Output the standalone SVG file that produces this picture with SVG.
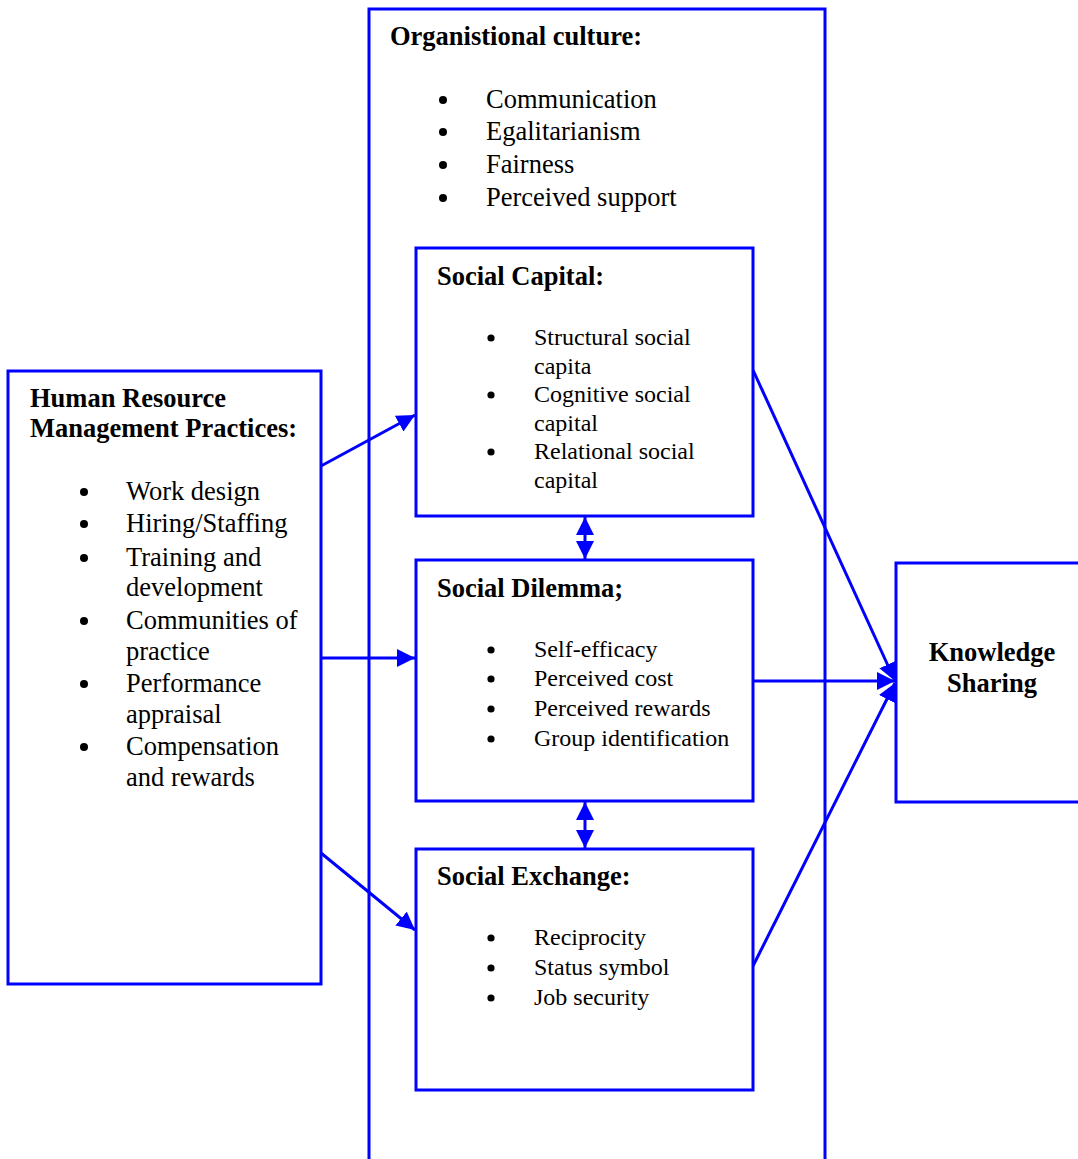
<svg xmlns="http://www.w3.org/2000/svg" width="1078" height="1159" viewBox="0 0 1078 1159">
<defs>
<marker id="ah" viewBox="0 0 10 10" refX="10" refY="5" markerWidth="6" markerHeight="6" orient="auto-start-reverse" markerUnits="strokeWidth">
<path d="M0,0 L10,5 L0,10 z" fill="#0000ff"/>
</marker>
<style>
.box{fill:#fff;stroke:#0000ff;stroke-width:3}
.t{font-family:"Liberation Serif","Times New Roman",serif;font-size:26.5px;fill:#000}
.s{font-family:"Liberation Serif","Times New Roman",serif;font-size:24px;fill:#000}
.b{font-weight:bold}
.c{stroke:#0000ff;stroke-width:3;fill:none}
.d{fill:#000}
</style>
</defs>
<rect width="1078" height="1159" fill="#fff"/>
<g id="org-culture">
<rect class="box" x="369" y="9" width="456" height="1160"/>
<text class="t b" x="390" y="45">Organistional culture:</text>
<g class="d">
<circle cx="443" cy="100" r="4"/><circle cx="443" cy="132" r="4"/><circle cx="443" cy="165" r="4"/><circle cx="443" cy="198" r="4"/>
</g>
<g class="t">
<text x="486" y="108">Communication</text>
<text x="486" y="140">Egalitarianism</text>
<text x="486" y="173">Fairness</text>
<text x="486" y="206">Perceived support</text>
</g>
</g>
<g id="hrm">
<rect class="box" x="8" y="371" width="313" height="613"/>
<text class="t b" x="30" y="407">Human Resource</text>
<text class="t b" x="30" y="437">Management Practices:</text>
<g class="d">
<circle cx="84" cy="492" r="4"/><circle cx="84" cy="524" r="4"/><circle cx="84" cy="558" r="4"/><circle cx="84" cy="621" r="4"/><circle cx="84" cy="684" r="4"/><circle cx="84" cy="747" r="4"/>
</g>
<g class="t">
<text x="126" y="500">Work design</text>
<text x="126" y="532">Hiring/Staffing</text>
<text x="126" y="566">Training and</text>
<text x="126" y="596">development</text>
<text x="126" y="629">Communities of</text>
<text x="126" y="660">practice</text>
<text x="126" y="692">Performance</text>
<text x="126" y="723">appraisal</text>
<text x="126" y="755">Compensation</text>
<text x="126" y="786">and rewards</text>
</g>
</g>
<g id="social-capital">
<rect class="box" x="416" y="248" width="337" height="268"/>
<text class="t b" x="437" y="285">Social Capital:</text>
<g class="d">
<circle cx="491" cy="338" r="3.6"/><circle cx="491" cy="395" r="3.6"/><circle cx="491" cy="452" r="3.6"/>
</g>
<g class="s">
<text x="534" y="345">Structural social</text>
<text x="534" y="374">capita</text>
<text x="534" y="402">Cognitive social</text>
<text x="534" y="431">capital</text>
<text x="534" y="459">Relational social</text>
<text x="534" y="488">capital</text>
</g>
</g>
<g id="social-dilemma">
<rect class="box" x="416" y="560" width="337" height="241"/>
<text class="t b" x="437" y="597">Social Dilemma;</text>
<g class="d">
<circle cx="491" cy="650" r="3.6"/><circle cx="491" cy="679" r="3.6"/><circle cx="491" cy="709" r="3.6"/><circle cx="491" cy="739" r="3.6"/>
</g>
<g class="s">
<text x="534" y="657">Self-efficacy</text>
<text x="534" y="686">Perceived cost</text>
<text x="534" y="716">Perceived rewards</text>
<text x="534" y="746">Group identification</text>
</g>
</g>
<g id="social-exchange">
<rect class="box" x="416" y="849" width="337" height="241"/>
<text class="t b" x="437" y="885">Social Exchange:</text>
<g class="d">
<circle cx="491" cy="938" r="3.6"/><circle cx="491" cy="968" r="3.6"/><circle cx="491" cy="998" r="3.6"/>
</g>
<g class="s">
<text x="534" y="945">Reciprocity</text>
<text x="534" y="975">Status symbol</text>
<text x="534" y="1005">Job security</text>
</g>
</g>
<g id="knowledge-sharing">
<rect class="box" x="896" y="563" width="200" height="239"/>
<text class="t b" x="992" y="661" text-anchor="middle">Knowledge</text>
<text class="t b" x="992" y="692" text-anchor="middle">Sharing</text>
</g>
<g id="connectors">
<line class="c" x1="321" y1="466" x2="415" y2="415" marker-end="url(#ah)"/>
<line class="c" x1="321" y1="658" x2="415" y2="658" marker-end="url(#ah)"/>
<line class="c" x1="321" y1="853" x2="415" y2="930" marker-end="url(#ah)"/>
<line class="c" x1="585" y1="517" x2="585" y2="559" marker-start="url(#ah)" marker-end="url(#ah)"/>
<line class="c" x1="585" y1="802" x2="585" y2="848" marker-start="url(#ah)" marker-end="url(#ah)"/>
<line class="c" x1="753" y1="370" x2="895" y2="681" marker-end="url(#ah)"/>
<line class="c" x1="753" y1="681" x2="895" y2="681" marker-end="url(#ah)"/>
<line class="c" x1="753" y1="966" x2="895" y2="683" marker-end="url(#ah)"/>
</g>
</svg>
